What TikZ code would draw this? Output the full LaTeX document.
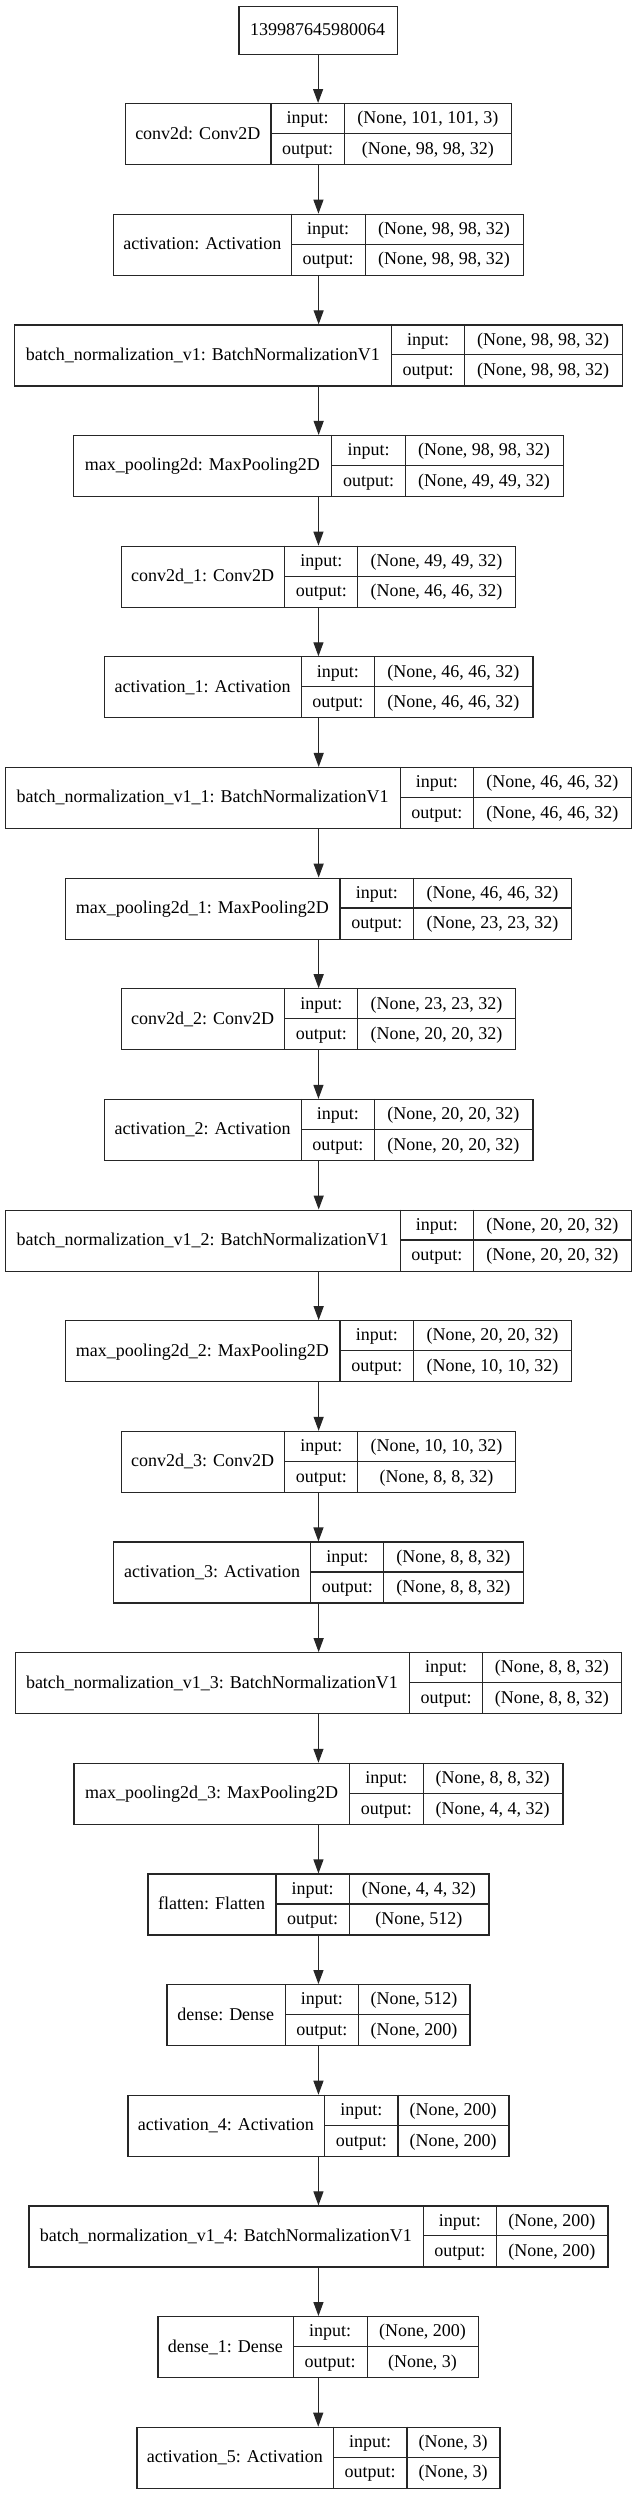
\documentclass[tikz,border=0pt]{standalone}
\usepackage{fontspec}
\setmainfont{Liberation Serif}
\usetikzlibrary{arrows.meta}

\tikzset{
  box/.style={draw=black!85, line width=1.2pt, inner sep=0pt, anchor=north west},
  rule/.style={draw=black!85, line width=1.2pt},
  field/.style={anchor=base, inner sep=0pt, font=\fontsize{18}{20}\selectfont},
  flow/.style={draw=black!85, line width=1.2pt, -{Triangle[length=14pt,width=10pt]}}
}

% one layer record: name, row, left, split 1, split 2, right, label, input shape, output shape
\newcommand{\kerasrow}[9]{%
  \pgfmathsetmacro{\ytop}{103+110.65*#2}
  \node[box, minimum width={(#6-#3)*1pt}, minimum height=61pt] (#1) at (#3,\ytop) {};
  \draw[rule] (#4,\ytop) -- ++(0,61);
  \draw[rule] (#5,\ytop) -- ++(0,61);
  \draw[rule] (#4,\ytop+30.5) -- (#6,\ytop+30.5);
  \node[field] (#1-name) at ({(#3+#4)/2},\ytop+36) {#7};
  \node[field] (#1-inkey) at ({(#4+#5)/2},\ytop+20.8) {input:};
  \node[field] (#1-outkey) at ({(#4+#5)/2},\ytop+51.3) {output:};
  \node[field] (#1-in) at ({(#5+#6)/2},\ytop+20.8) {#8};
  \node[field] (#1-out) at ({(#5+#6)/2},\ytop+51.3) {#9};
}

\begin{document}
\begin{tikzpicture}[x=1pt, y=-1pt]
  % page, same size as the reference
  \fill[white] (0,0) rectangle (636,2495);
  \useasboundingbox (0,0) rectangle (636,2495);

  % input node
  \node[box, minimum width=158.4pt, minimum height=48.3pt] (input) at (238.3,5.7) {};
  \node[field] (input-name) at (317.5,35.8) {139987645980064};

  % the layers, top to bottom
  \kerasrow{conv2d}{0}{124.5}{271.0}{344.4}{511.2}{conv2d: Conv2D}{(None, 101, 101, 3)}{(None, 98, 98, 32)}
  \kerasrow{act}{1}{113.2}{291.3}{365.1}{522.9}{activation: Activation}{(None, 98, 98, 32)}{(None, 98, 98, 32)}
  \kerasrow{bn}{2}{14.2}{391.5}{464.5}{621.9}{batch\_normalization\_v1: BatchNormalizationV1}{(None, 98, 98, 32)}{(None, 98, 98, 32)}
  \kerasrow{mp}{3}{73.0}{331.8}{405.3}{562.7}{max\_pooling2d: MaxPooling2D}{(None, 98, 98, 32)}{(None, 49, 49, 32)}
  \kerasrow{conv2dA}{4}{120.5}{284.8}{357.8}{515.2}{conv2d\_1: Conv2D}{(None, 49, 49, 32)}{(None, 46, 46, 32)}
  \kerasrow{actA}{5}{103.9}{301.4}{374.4}{532.3}{activation\_1: Activation}{(None, 46, 46, 32)}{(None, 46, 46, 32)}
  \kerasrow{bnA}{6}{4.9}{400.4}{473.4}{631.2}{batch\_normalization\_v1\_1: BatchNormalizationV1}{(None, 46, 46, 32)}{(None, 46, 46, 32)}
  \kerasrow{mpA}{7}{64.9}{340.0}{413.8}{571.2}{max\_pooling2d\_1: MaxPooling2D}{(None, 46, 46, 32)}{(None, 23, 23, 32)}
  \kerasrow{conv2dB}{8}{120.5}{284.8}{357.8}{515.2}{conv2d\_2: Conv2D}{(None, 23, 23, 32)}{(None, 20, 20, 32)}
  \kerasrow{actB}{9}{103.9}{301.4}{374.4}{532.3}{activation\_2: Activation}{(None, 20, 20, 32)}{(None, 20, 20, 32)}
  \kerasrow{bnB}{10}{4.9}{400.4}{473.4}{631.2}{batch\_normalization\_v1\_2: BatchNormalizationV1}{(None, 20, 20, 32)}{(None, 20, 20, 32)}
  \kerasrow{mpB}{11}{64.9}{340.0}{413.8}{571.2}{max\_pooling2d\_2: MaxPooling2D}{(None, 20, 20, 32)}{(None, 10, 10, 32)}
  \kerasrow{conv2dC}{12}{120.5}{284.8}{357.8}{515.2}{conv2d\_3: Conv2D}{(None, 10, 10, 32)}{(None, 8, 8, 32)}
  \kerasrow{actC}{13}{113.2}{310.8}{383.8}{522.9}{activation\_3: Activation}{(None, 8, 8, 32)}{(None, 8, 8, 32)}
  \kerasrow{bnC}{14}{14.6}{409.3}{482.8}{621.1}{batch\_normalization\_v1\_3: BatchNormalizationV1}{(None, 8, 8, 32)}{(None, 8, 8, 32)}
  \kerasrow{mpC}{15}{73.4}{349.7}{423.1}{562.3}{max\_pooling2d\_3: MaxPooling2D}{(None, 8, 8, 32)}{(None, 4, 4, 32)}
  \kerasrow{flat}{16}{147.3}{275.9}{349.3}{488.4}{flatten: Flatten}{(None, 4, 4, 32)}{(None, 512)}
  \kerasrow{dense}{17}{166.3}{285.2}{358.6}{469.4}{dense: Dense}{(None, 512)}{(None, 200)}
  \kerasrow{actD}{18}{127.4}{324.5}{398.0}{508.3}{activation\_4: Activation}{(None, 200)}{(None, 200)}
  \kerasrow{bnD}{19}{28.4}{423.1}{496.6}{607.3}{batch\_normalization\_v1\_4: BatchNormalizationV1}{(None, 200)}{(None, 200)}
  \kerasrow{denseA}{20}{157.4}{293.3}{367.1}{477.9}{dense\_1: Dense}{(None, 200)}{(None, 3)}
  \kerasrow{actE}{21}{136.3}{333.5}{406.9}{499.4}{activation\_5: Activation}{(None, 3)}{(None, 3)}

  % arrows between the layers
  \foreach \a/\b in {input/conv2d, conv2d/act, act/bn, bn/mp, mp/conv2dA, conv2dA/actA,
      actA/bnA, bnA/mpA, mpA/conv2dB, conv2dB/actB, actB/bnB, bnB/mpB, mpB/conv2dC,
      conv2dC/actC, actC/bnC, bnC/mpC, mpC/flat, flat/dense, dense/actD, actD/bnD,
      bnD/denseA, denseA/actE}
    \draw[flow] (\a.south) -- (\a.south |- \b.north);
\end{tikzpicture}
\end{document}
